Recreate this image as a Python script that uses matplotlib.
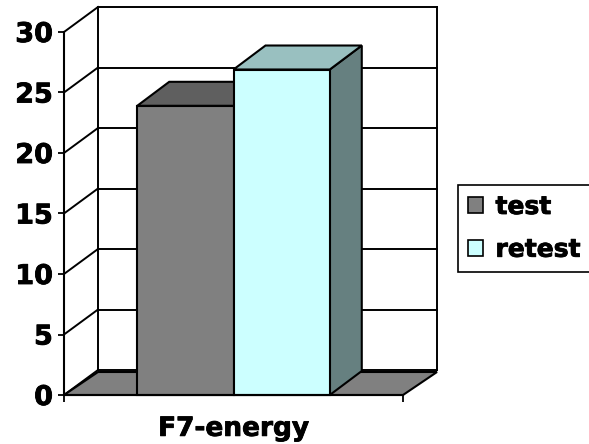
import numpy as np
import matplotlib
matplotlib.use('Agg')
import matplotlib.pyplot as plt
import matplotlib.patheffects as pe
from matplotlib.patches import Polygon, Patch

# data
categories = ['F7-energy']
series = ['test', 'retest']
values = [23.9, 26.9]
front_colors = ['#808080', '#CCFFFF']
top_colors = ['#5F5F5F', '#99C0C0']
side_colors = ['#5F5F5F', '#668080']
yticks = [0, 5, 10, 15, 20, 25, 30]

plt.rcParams['font.family'] = 'DejaVu Sans'
plt.rcParams['font.weight'] = 'bold'

fig = plt.figure(figsize=(5.89, 4.44), dpi=100)
ax = fig.add_axes([64/589, 49/444, 339/589, 363/444])
ax.set_xlim(-0.5, 0.5)
ax.set_ylim(0, 30)
ax.patch.set_visible(False)

wall = (34, 25)       # back wall depth, pixels
floor_depth = (34, 23)
bar_depth = (32, 24)


def shift(x, y, d):
    # move a data point by d pixels on screen
    p = ax.transData.transform((x, y)) + np.array(d, dtype=float)
    return ax.transData.inverted().transform(p)


def line(p, q, lw=1.4):
    ax.plot([p[0], q[0]], [p[1], q[1]], color='black', lw=lw,
            clip_on=False, zorder=1, solid_capstyle='projecting')


x_lo, x_hi = ax.get_xlim()
y_top = yticks[-1]

# walls and gridlines
for v in yticks:
    line(shift(x_lo, v, wall), shift(x_hi, v, wall))
    line((x_lo, v), shift(x_lo, v, wall))
line(shift(x_lo, 0, wall), shift(x_lo, y_top, wall))
line(shift(x_hi, 0, wall), shift(x_hi, y_top, wall))

# floor
floor = Polygon([(x_lo, 0), (x_hi, 0), shift(x_hi, 0, floor_depth),
                 shift(x_lo, 0, floor_depth)], closed=True,
                facecolor='#808080', edgecolor='black', lw=1.5,
                clip_on=False, zorder=2)
ax.add_patch(floor)

# 3d bars
width = 0.284
n = len(series)
offsets = (np.arange(n) - (n - 1) / 2) * width
for i, name in enumerate(series):
    v = values[i]
    x0 = 0 + offsets[i] - width / 2
    x1 = x0 + width
    side = Polygon([(x1, 0), (x1, v), shift(x1, v, bar_depth), shift(x1, 0, bar_depth)],
                   closed=True, facecolor=side_colors[i], edgecolor='black',
                   lw=1.5, clip_on=False, zorder=3 + i * 3)
    top = Polygon([(x0, v), (x1, v), shift(x1, v, bar_depth), shift(x0, v, bar_depth)],
                  closed=True, facecolor=top_colors[i], edgecolor='black',
                  lw=1.5, clip_on=False, zorder=4 + i * 3)
    ax.add_patch(side)
    ax.add_patch(top)
    ax.bar(0 + offsets[i], v, width=width, color=front_colors[i],
           edgecolor='black', lw=1.5, clip_on=False, zorder=5 + i * 3)

# axes
for s in ['top', 'right']:
    ax.spines[s].set_visible(False)
ax.spines['left'].set_linewidth(1.5)
ax.spines['bottom'].set_linewidth(1.5)
ax.spines['left'].set_zorder(20)
ax.spines['bottom'].set_zorder(20)

ax.set_yticks(yticks)
ax.tick_params(axis='y', length=4.5, width=1.3, pad=3.5, labelsize=19.5)
ax.set_xticks([0])
ax.set_xticklabels(categories)
ax.set_xticks([x_lo, x_hi], minor=True)
ax.tick_params(axis='x', which='major', length=0, pad=15, labelsize=19)
ax.tick_params(axis='x', which='minor', length=5, width=1.3)

# Verdana-like heavier strokes
heavy = [pe.withStroke(linewidth=0.6, foreground='black')]
for t in ax.get_yticklabels() + ax.get_xticklabels():
    t.set_path_effects(heavy)

handles = [Patch(facecolor=front_colors[i], edgecolor='black', lw=1.2)
           for i in range(n)]
leg = fig.legend(handles, series, loc='upper left',
                 bbox_to_anchor=(458/589, 1 - 185/444), borderaxespad=0,
                 fancybox=False, framealpha=1, edgecolor='black',
                 prop={'weight': 'bold', 'size': 18},
                 handlelength=0.6, handleheight=0.6, handletextpad=0.5,
                 labelspacing=0.75, borderpad=0.4)
leg.get_frame().set_linewidth(1.2)
for t in leg.get_texts():
    t.set_path_effects(heavy)

fig.savefig('out.png', dpi=100)
